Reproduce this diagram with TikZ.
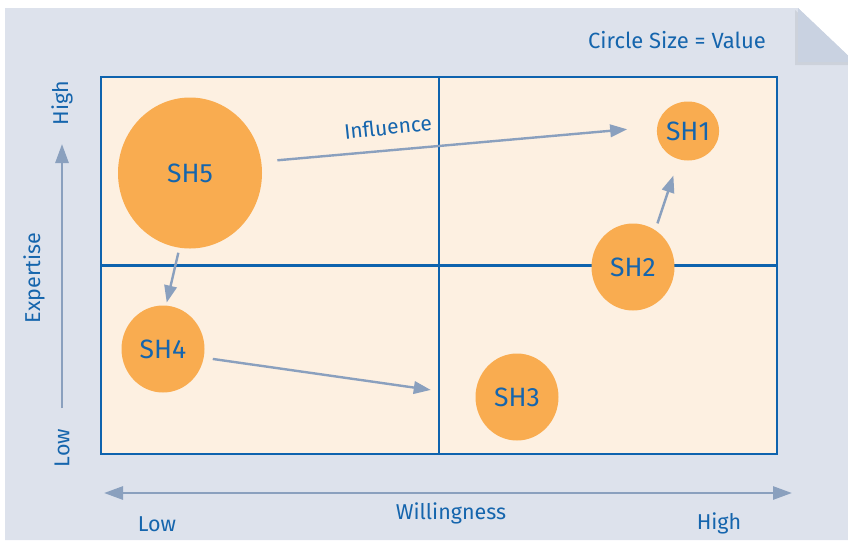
\documentclass[tikz,border=0pt]{standalone}
\usepackage{fontspec}
\setmainfont{Fira Sans}
\usetikzlibrary{shapes.geometric,arrows.meta,positioning,calc}

\definecolor{panelgrey}{RGB}{221,226,236}
\definecolor{foldgrey}{RGB}{201,210,225}
\definecolor{gridblue}{RGB}{14,99,174}
\definecolor{textblue}{RGB}{21,101,173}
\definecolor{cellfill}{RGB}{253,240,225}
\definecolor{shorange}{RGB}{249,172,80}
\definecolor{flowgrey}{RGB}{138,160,190}

\begin{document}
\begin{tikzpicture}[x=1pt, y=-1pt,
    sh/.style={ellipse, fill=shorange, text=textblue, inner sep=0pt,
        font=\fontsize{26.5}{30}\selectfont},
    flow/.style={draw=flowgrey, line width=2.4pt, -{Triangle[length=17pt,width=12.5pt]}},
    axisarrow/.style={draw=flowgrey, line width=2.7pt},
    lbl/.style={text=textblue, inner sep=0pt, font=\fontsize{21.5}{25}\selectfont}]
    \useasboundingbox (0,0) rectangle (848,542);

    % Background panel with folded corner
    \fill[panelgrey] (5,8) -- (798,8) -- (848,55.5) -- (848,540) -- (5,540) -- cycle;
    \fill[black, opacity=0.07] (795,10) -- (795,65) -- (848,65) -- (848,58) -- cycle;
    \fill[foldgrey] (798,8) -- (798,62) -- (848,62) -- (848,55.5) -- cycle;

    % Legend
    \node[lbl, font=\fontsize{22}{26}\selectfont] (legend) at (677,40) {Circle Size = Value};

    % Quadrants
    \fill[cellfill] (101,77) rectangle (777,454);
    \draw[gridblue, line width=2.5pt] (101,77) rectangle (777,454);
    \draw[gridblue, line width=2.3pt] (439,77) -- (439,454);
    \draw[gridblue, line width=2.3pt] (101,265.5) -- (777,265.5);

    % Stakeholders
    \node[sh, minimum width=144, minimum height=151] (sh5) at (190,173) {SH5};
    \node[sh, minimum width=57, minimum height=59] (sh1) at (688,131) {SH1};
    \node[sh, minimum width=83, minimum height=87] (sh2) at (633,267) {SH2};
    \node[sh, minimum width=83, minimum height=87] (sh4) at (163,349) {SH4};
    \node[sh, minimum width=83, minimum height=87] (sh3) at (517,397) {SH3};

    % Flows
    \draw[flow, shorten <=16pt, shorten >=30pt] (sh5.9) -- (sh1.172);
    \draw[flow, shorten <=5pt, shorten >=3pt] (sh5.262) -- (sh4.86);
    \draw[flow, shorten <=9pt, shorten >=45pt] (sh4.-12) -- (sh3.179);
    \draw[flow, shorten <=7pt, shorten >=17pt] (sh2.59) -- (sh1.252);
    \node[lbl, font=\fontsize{21}{25}\selectfont, rotate=6] (influence) at (388,127) {Influence};

    % Expertise axis
    \coordinate (ylow) at (62,408);
    \coordinate (yhigh) at (62,144);
    \draw[axisarrow, -{Triangle[length=19pt,width=13pt]}] (ylow) -- (yhigh);
    \node[lbl, rotate=90] (exp) at (34,278) {Expertise};
    \node[lbl, rotate=90] (exphigh) at (62,103) {High};
    \node[lbl, rotate=90] (explow) at (62,448) {Low};

    % Willingness axis
    \coordinate (xlow) at (104,493);
    \coordinate (xhigh) at (792,493);
    \draw[axisarrow, {Triangle[length=19pt,width=13pt]}-{Triangle[length=19pt,width=13pt]}] (xlow) -- (xhigh);
    \node[lbl] (will) at (451,513) {Willingness};
    \node[lbl] (willlow) at (157,524) {Low};
    \node[lbl] (willhigh) at (719,523) {High};
\end{tikzpicture}
\end{document}
